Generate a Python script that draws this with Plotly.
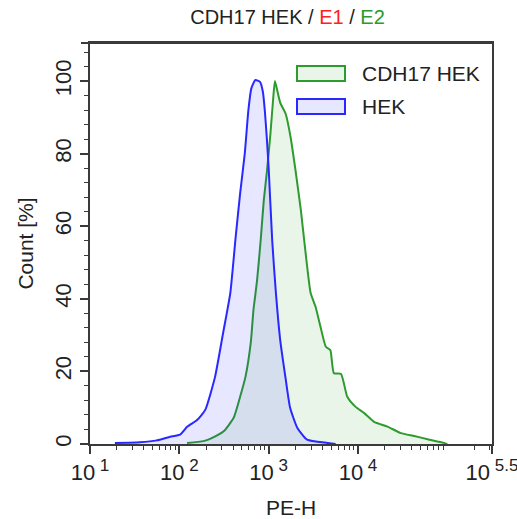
import plotly.graph_objects as go

# ---- data (PE-H value, Count %) ----
pe_h_hek = [19, 36, 56, 79, 102, 123, 158, 195, 251, 309, 372, 427, 479, 540,
            593, 640, 710, 800, 862, 905, 955, 1000, 1096, 1202, 1349, 1549,
            1738, 2089, 2692, 4571, 5623]
count_hek = [0.3, 0.5, 1.0, 2.0, 2.6, 4.8, 6.6, 9.4, 18.5, 30.6, 41.6, 57, 69,
             80, 92, 98, 100.3, 99.8, 97, 92, 84, 76, 56, 42, 28.5, 18, 10,
             4.5, 1.2, 0.3, 0]

pe_h_cdh17 = [122, 186, 224, 316, 407, 479, 550, 631, 676, 741, 813, 881, 955,
              1047, 1122, 1175, 1259, 1349, 1549, 1758, 1995, 2291, 2570, 2951,
              3350, 3802, 4365, 4898, 5370, 6457, 7586, 9333, 11749, 15136,
              21380, 30200, 42658, 60256, 85114, 100000]
count_cdh17 = [0.3, 0.8, 1.5, 3.6, 7.3, 13, 18.5, 28, 37, 45, 56, 67, 75, 85.6,
               95, 100, 97, 94, 91, 84.6, 75.5, 64.5, 53.4, 41.6, 37.8, 32.3,
               26.8, 25.9, 19.5, 19.3, 13, 10.3, 8.5, 6.1, 4.8, 3, 2.2, 1.3, 0.5, 0]

series_names = ["CDH17 HEK", "HEK"]
x_tick_vals = [10, 100, 1000, 10000, 10 ** 5.5]
x_exponents = ["1", "2", "3", "4", "5.5"]
x_tick_text = ["10<sup><span style='font-size:17px'> " + e + "</span></sup>"
               for e in x_exponents]
y_tick_vals = [0, 20, 40, 60, 80, 100]

GREEN = "#2e9b2e"
BLUE = "#2828ff"
GREEN_FILL = "rgba(46,155,46,0.10)"
BLUE_FILL = "rgba(40,40,255,0.11)"
AXIS = "#3a3a3a"
TXT = "#222"
FONT = "Liberation Sans, Arial, sans-serif"

W, H = 517, 519
L, R, T, B = 90, 25, 43, 75
PW, PH = W - L - R, H - T - B


def px(x):
    return (x - L) / PW


def py(y):
    return (H - B - y) / PH


fig = go.Figure()
fig.add_trace(go.Scatter(x=pe_h_cdh17, y=count_cdh17, mode="lines",
                         name=series_names[0], fill="tozeroy",
                         fillcolor=GREEN_FILL,
                         line=dict(color=GREEN, width=2, shape="spline",
                                   smoothing=0.5)))
fig.add_trace(go.Scatter(x=pe_h_hek, y=count_hek, mode="lines",
                         name=series_names[1], fill="tozeroy",
                         fillcolor=BLUE_FILL,
                         line=dict(color=BLUE, width=2, shape="spline",
                                   smoothing=0.5)))

# minor tick positions for the log axis
minor_x = []
for dec in range(1, 6):
    for m in range(2, 10):
        v = m * 10 ** dec
        if v < 10 ** 5.5:
            minor_x.append(v)

fig.update_xaxes(type="log", range=[1, 5.5], tickvals=x_tick_vals,
                 ticktext=x_tick_text, ticks="outside", ticklen=8,
                 tickwidth=1.5, tickcolor=AXIS, showline=True, linewidth=2,
                 linecolor=AXIS, mirror=True, showgrid=False, zeroline=False,
                 automargin=False, ticklabeloverflow="allow",
                 tickfont=dict(size=22, color=TXT, family=FONT),
                 minor=dict(tickvals=minor_x, ticks="outside", ticklen=4,
                            tickwidth=1.2, tickcolor=AXIS, showgrid=False),
                 title=dict(text="PE-H", font=dict(size=21, color=TXT,
                                                   family=FONT), standoff=16))
fig.update_yaxes(range=[0, 110.5], tickvals=y_tick_vals, ticks="outside",
                 ticklen=8, tickwidth=1.5, tickcolor=AXIS, showline=True,
                 linewidth=2, linecolor=AXIS, mirror=True, showgrid=False,
                 zeroline=False, tickangle=-90, automargin=False,
                 ticklabeloverflow="allow",
                 tickfont=dict(size=22, color=TXT, family=FONT),
                 minor=dict(dtick=4, ticks="outside", ticklen=4, tickwidth=1.2,
                            tickcolor=AXIS, showgrid=False),
                 title=dict(text="Count [%]", font=dict(size=21, color=TXT,
                                                        family=FONT), standoff=12))

shapes = [
    dict(type="line", xref="paper", yref="paper", x0=px(81), x1=1, y0=1, y1=1,
         line=dict(color=AXIS, width=2)),
    dict(type="rect", xref="paper", yref="paper", x0=px(297), x1=px(345),
         y0=py(81), y1=py(66), fillcolor=GREEN_FILL,
         line=dict(color=GREEN, width=2)),
    dict(type="rect", xref="paper", yref="paper", x0=px(297), x1=px(345),
         y0=py(114), y1=py(99), fillcolor=BLUE_FILL,
         line=dict(color=BLUE, width=2)),
]
annotations = [
    dict(text=series_names[0], xref="paper", yref="paper", x=px(360), y=py(73.5),
         xanchor="left", yanchor="middle", showarrow=False,
         font=dict(size=21, color=TXT, family=FONT)),
    dict(text=series_names[1], xref="paper", yref="paper", x=px(360), y=py(106.5),
         xanchor="left", yanchor="middle", showarrow=False,
         font=dict(size=21, color=TXT, family=FONT)),
]

fig.update_layout(
    width=W, height=H, margin=dict(l=L, r=R, t=T, b=B, autoexpand=False),
    paper_bgcolor="white", plot_bgcolor="white", showlegend=False,
    shapes=shapes, annotations=annotations,
    title=dict(text="CDH17 HEK / <span style='color:#ff2020'>E1</span> / "
                    "<span style='color:#2a9a2a'>E2</span>",
               x=px(287.5), xref="paper", xanchor="center",
               y=1 - 17 / H, yref="container", yanchor="middle",
               font=dict(size=20, color=TXT, family=FONT)),
)

fig.write_html("out.html", config={"displayModeBar": False},
               post_script="document.body.style.margin='0px';"
                           "document.body.style.overflow='hidden';")
